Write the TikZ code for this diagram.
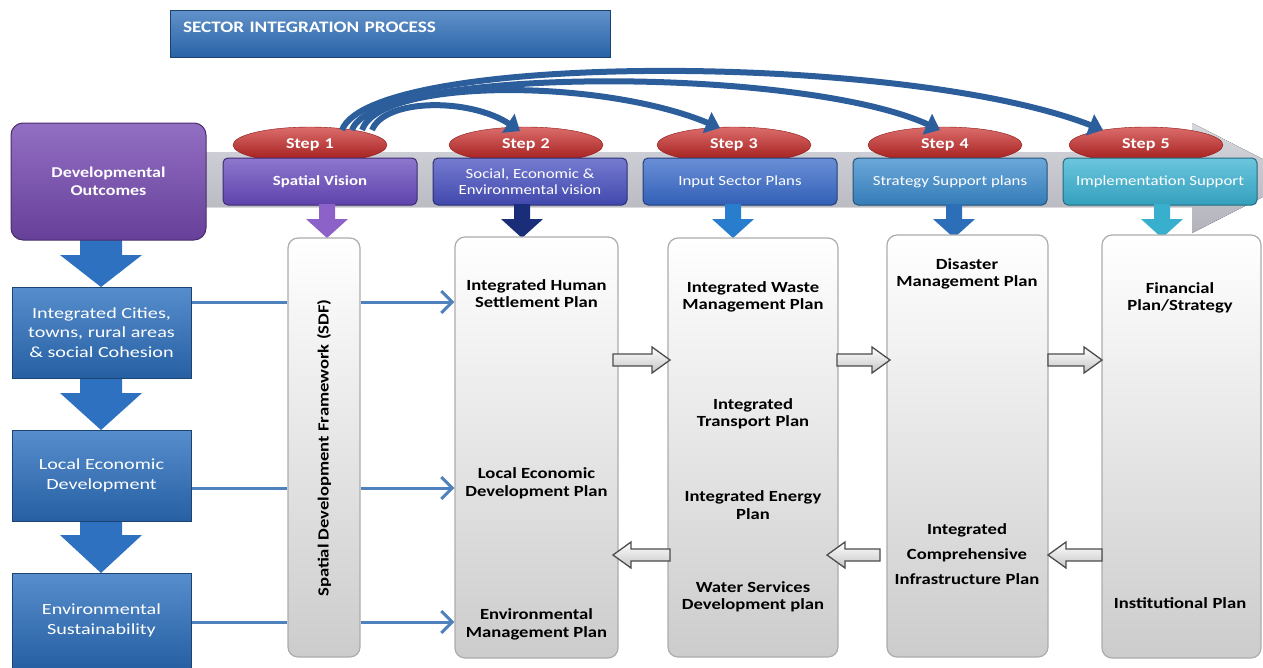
\documentclass[tikz,border=0pt]{standalone}
\usepackage{fontspec}
\setmainfont{Carlito}
\newfontfamily\widefont[FakeStretch=1.2]{Carlito}
\newfontfamily\widerfont[FakeStretch=1.3]{Carlito}
\usetikzlibrary{shapes.geometric,arrows.meta,calc}

\definecolor{titleblue}{RGB}{45,110,185}
\definecolor{devpurple}{RGB}{120,75,180}
\definecolor{cityblue}{RGB}{45,113,192}
\definecolor{linkblue}{RGB}{79,129,189}
\definecolor{arcblue}{RGB}{44,94,156}
\definecolor{ovalred}{RGB}{200,30,28}
\definecolor{bandgrey}{RGB}{198,198,208}
\definecolor{visionA}{RGB}{104,74,190}
\definecolor{visionB}{RGB}{72,80,192}
\definecolor{visionC}{RGB}{56,106,202}
\definecolor{visionD}{RGB}{58,138,204}
\definecolor{visionE}{RGB}{58,178,210}
\definecolor{downA}{RGB}{140,98,200}
\definecolor{downB}{RGB}{25,45,120}
\definecolor{downC}{RGB}{40,125,205}
\definecolor{downD}{RGB}{45,110,185}
\definecolor{downE}{RGB}{55,175,205}

\begin{document}
\begin{tikzpicture}[x=1pt,y=-1pt,
    stepoval/.style={ellipse, minimum width=154pt, minimum height=36pt,
      top color=ovalred!65!white, bottom color=ovalred!80!black, draw=ovalred!70!black,
      text=white, font=\widefont\bfseries\fontsize{15}{18}\selectfont},
    visionbox/.style={rectangle, rounded corners=5pt, minimum width=194pt, minimum height=47pt,
      top color=#1!75!white, bottom color=#1!90!black, draw=#1!60!black, line width=1pt,
      text=white, align=center, font=\widefont\fontsize{14}{16}\selectfont},
    citybox/.style={rectangle, minimum width=179pt, top color=cityblue!80!white,
      bottom color=cityblue!85!black, draw=cityblue!60!black, line width=1pt,
      text=white, align=center, font=\widerfont\fontsize{15.5}{19.5}\selectfont},
    planbox/.style={rectangle, rounded corners=10pt, draw=gray!65, line width=1.2pt,
      top color=white, bottom color=gray!40},
    planlabel/.style={align=center, font=\widefont\bfseries\fontsize{15.5}{17.5}\selectfont},
    link/.style={draw=linkblue, line width=3pt},
    curve/.style={draw=arcblue, line width=6pt, -{Triangle[width=22pt,length=14pt]}},
    greyarrow/.style={draw=gray!60!black, line width=1.3pt, top color=white, bottom color=gray!45}
  ]
  \useasboundingbox (0,0) rectangle (1263,667);
  \clip (0,0) rectangle (1263,667);

  \node[rectangle, minimum width=440pt, minimum height=47pt, text width=414pt, align=left,
    text depth=13pt, top color=titleblue!75!white, bottom color=titleblue!90!black,
    draw=titleblue!60!black, text=white, font=\widefont\bfseries\fontsize{16}{18}\selectfont]
    (title) at (390,33.5) {SECTOR INTEGRATION PROCESS};

  % grey process band
  \fill[top color=bandgrey!70!white, bottom color=bandgrey!90!black]
    (200,152) -- (1192,152) -- (1192,123) -- (1300,178) -- (1192,233) -- (1192,207) -- (200,207) -- cycle;

  % big arrows on the left
  \foreach \t/\m/\b in {238/255/287, 378/393/430, 521/535/573}
    \fill[cityblue] (80,\t) -- (122,\t) -- (122,\m) -- (142,\m) -- (101,\b) -- (60,\m) -- (80,\m) -- cycle;

  \node[rectangle, rounded corners=12pt, minimum width=195pt, minimum height=117pt,
    top color=devpurple!80!white, bottom color=devpurple!85!black, draw=devpurple!60!black,
    line width=1pt, text=white, align=center, font=\widefont\bfseries\fontsize{15}{18}\selectfont]
    (dev) at (108.5,181.5) {Developmental\\Outcomes};

  \node[citybox, minimum height=91pt] (city) at (101.5,332.5) {Integrated Cities,\\towns, rural areas\\\& social Cohesion};
  \node[citybox, minimum height=91pt] (led) at (101.5,475.5) {Local Economic\\Development};
  \node[citybox, minimum height=95pt] (env) at (101.5,620.5) {Environmental\\Sustainability};

  % steps
  \node[stepoval] (s1) at (310,145) {Step\hspace{0.35em}1};
  \node[stepoval] (s2) at (526,145) {Step\hspace{0.35em}2};
  \node[stepoval] (s3) at (734,145) {Step\hspace{0.35em}3};
  \node[stepoval] (s4) at (945,145) {Step\hspace{0.35em}4};
  \node[stepoval] (s5) at (1146,145) {Step\hspace{0.35em}5};

  \node[visionbox=visionA, font=\widefont\bfseries\fontsize{14}{16}\selectfont] (v1) at (320,181.5) {Spatial Vision};
  \node[visionbox=visionB] (v2) at (530,181.5) {Social, Economic \&\\Environmental vision};
  \node[visionbox=visionC] (v3) at (740,181.5) {Input Sector Plans};
  \node[visionbox=visionD] (v4) at (950,181.5) {Strategy Support plans};
  \node[visionbox=visionE] (v5) at (1160,181.5) {Implementation Support};

  \foreach \x/\c in {327/downA, 522/downB, 733/downC, 954/downD, 1162/downE}
    \fill[fill=\c] (\x-8,204) -- (\x+8,204) -- (\x+8,219) -- (\x+21,219) -- (\x,238) -- (\x-21,219) -- (\x-8,219) -- cycle;

  % plan columns
  \node[planbox, minimum width=72pt, minimum height=419pt] (sdf) at (324,447.5) {};
  \node[planbox, minimum width=163pt, minimum height=421pt] (col2) at (536.5,447.5) {};
  \node[planbox, minimum width=170pt, minimum height=419pt] (col3) at (753,447.5) {};
  \node[planbox, minimum width=161pt, minimum height=422pt] (col4) at (967.5,446) {};
  \node[planbox, minimum width=159pt, minimum height=423pt] (col5) at (1181.5,446.5) {};

  \node[planlabel, rotate=90] (sdftext) at (324,448) {Spatial Development Framework (SDF)};
  \node[planlabel] (hsp) at (536.5,293.5) {Integrated Human\\Settlement Plan};
  \node[planlabel] (ledp) at (536.5,483.5) {Local Economic\\Development Plan};
  \node[planlabel] (emp) at (536.5,624.5) {Environmental\\Management Plan};
  \node[planlabel] (iwmp) at (753,297) {Integrated Waste\\Management Plan};
  \node[planlabel] (itp) at (753,414) {Integrated\\Transport\hspace{0.3em}Plan};
  \node[planlabel] (iep) at (753,505) {Integrated Energy\\Plan};
  \node[planlabel] (wsdp) at (753,597) {Water Services\\Development plan};
  \node[planlabel] (dmp) at (967,274) {Disaster\\Management Plan};
  \node[planlabel, font=\widefont\bfseries\fontsize{15.5}{25}\selectfont] (icip) at (967,554) {Integrated\\Comprehensive\\Infrastructure\hspace{0.3em}Plan};
  \node[planlabel] (fps) at (1180,298) {Financial\\Plan/Strategy};
  \node[planlabel] (ip) at (1180,603) {Institutional\hspace{0.3em}Plan};

  % links from outcomes through the SDF
  \foreach \n/\s in {city/30.5pt, led/-12.5pt, env/-1.5pt} {
    \draw[link] ([yshift=\s]\n.east) -- ([yshift=\s]\n.east -| sdf.west);
    \draw[link, -{Straight Barb[width=22pt,length=11pt]}] ([yshift=\s]\n.east -| sdf.east) -- ([yshift=\s]\n.east -| col2.west);
  }

  % grey block arrows between columns
  \foreach \a/\b in {613/670, 837/890, 1048/1102}
    \draw[greyarrow] (\a,354) -- (\b-18,354) -- (\b-18,347) -- (\b,360) -- (\b-18,373) -- (\b-18,366) -- (\a,366) -- cycle;
  \foreach \a/\b in {613/670, 827/880, 1048/1102}
    \draw[greyarrow] (\b,549) -- (\a+18,549) -- (\a+18,542) -- (\a,555) -- (\a+18,568) -- (\a+18,561) -- (\b,561) -- cycle;

  % arcs from step 1
  \draw[curve] ([xshift=62pt,yshift=15pt]s1.center) .. controls +(13,-32) and +(-50,-33) .. ([xshift=-6pt,yshift=14pt]s2.center);
  \draw[curve] ([xshift=52pt,yshift=15pt]s1.center) .. controls +(18,-52) and +(-120,-50) .. ([xshift=-14pt,yshift=17pt]s3.center);
  \draw[curve] ([xshift=42pt,yshift=15pt]s1.center) .. controls +(23,-64) and +(-140,-64) .. ([xshift=-5pt,yshift=15pt]s4.center);
  \draw[curve] ([xshift=32pt,yshift=15pt]s1.center) .. controls +(30,-78) and +(-200,-78) .. ([xshift=-43pt,yshift=15pt]s5.center);
\end{tikzpicture}
\end{document}
